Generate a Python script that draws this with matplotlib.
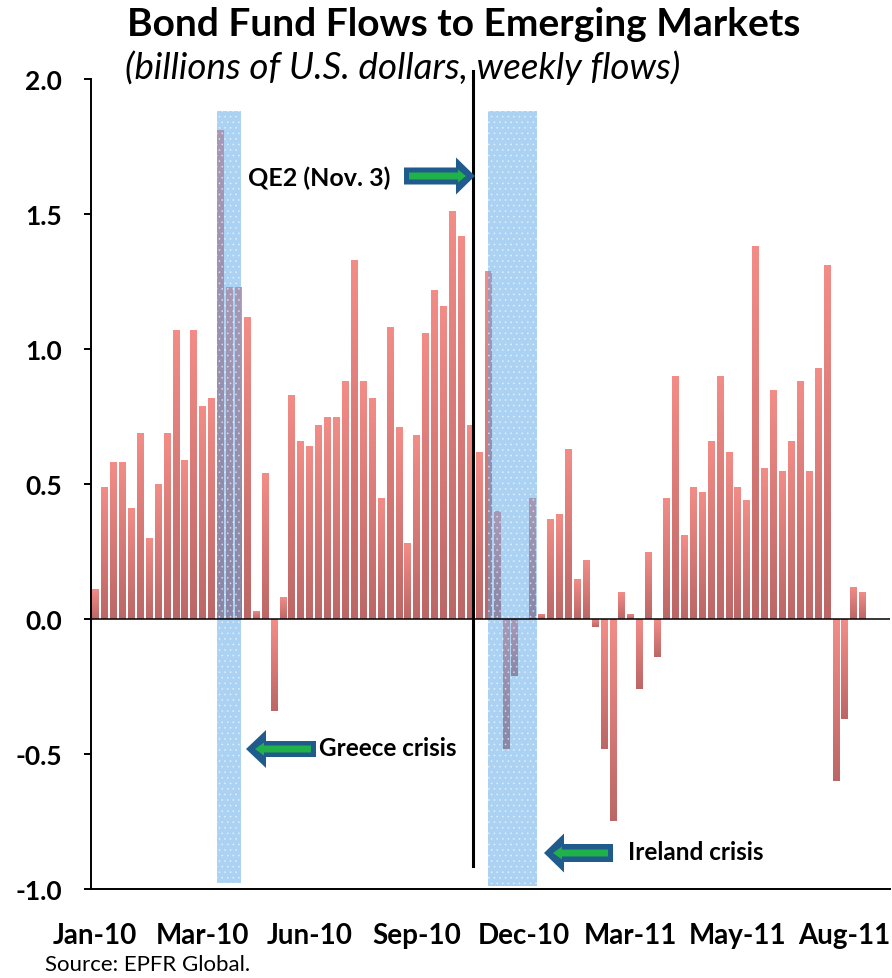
import matplotlib
matplotlib.use("Agg")
import matplotlib.pyplot as plt
import numpy as np
from matplotlib.colors import LinearSegmentedColormap
from matplotlib.patches import Polygon, Rectangle

# weekly bond fund flows to EM, billions USD
flows = [
    0.11, 0.49, 0.58, 0.58, 0.41, 0.69, 0.30, 0.50, 0.69, 1.07,
    0.59, 1.07, 0.79, 0.82, 1.81, 1.23, 1.23, 1.12, 0.03, 0.54,
    -0.34, 0.08, 0.83, 0.66, 0.64, 0.72, 0.75, 0.75, 0.88, 1.33,
    0.88, 0.82, 0.45, 1.08, 0.71, 0.28, 0.68, 1.06, 1.22, 1.16,
    1.51, 1.42, 0.72, 0.62, 1.29, 0.40, -0.48, -0.21, 0.0, 0.45,
    0.02, 0.37, 0.39, 0.63, 0.15, 0.22, -0.03, -0.48, -0.75, 0.10,
    0.02, -0.26, 0.25, -0.14, 0.45, 0.90, 0.31, 0.49, 0.47, 0.66,
    0.90, 0.62, 0.49, 0.44, 1.38, 0.56, 0.85, 0.55, 0.66, 0.88,
    0.55, 0.93, 1.31, -0.60, -0.37, 0.12, 0.10,
]
month_pos = [0, 12, 24, 36, 48, 60, 72, 84]
month_labels = ["Jan-10", "Mar-10", "Jun-10", "Sep-10", "Dec-10", "Mar-11", "May-11", "Aug-11"]
y_ticks = [-1.0, -0.5, 0.0, 0.5, 1.0, 1.5, 2.0]
greece_span = (13.65, 16.35)
ireland_span = (44.05, 49.55)
qe2_week = 42.4

FONT = "Lato"

fig = plt.figure(figsize=(8.92, 9.79), dpi=100)
ax = fig.add_axes([91 / 892, 1 - 890 / 979, 799 / 892, 810 / 979])

x = np.arange(len(flows))
bars = ax.bar(x, flows, width=0.68, color="none", edgecolor="none", zorder=2)

cmap = LinearSegmentedColormap.from_list("bar", ["#BC6767", "#F38C87"])
grad = np.linspace(0, 1, 64).reshape(-1, 1)
for b, v in zip(bars, flows):
    if v == 0:
        continue
    x0 = b.get_x()
    im = ax.imshow(grad, cmap=cmap, origin="lower", aspect="auto",
                   extent=(x0, x0 + b.get_width(), min(0, v), max(0, v)),
                   zorder=2, interpolation="bilinear")
    im.set_clip_path(b)

plt.rcParams["hatch.linewidth"] = 0.5
for (a, b_), bottom in [(greece_span, -0.978), (ireland_span, -0.99)]:
    ax.add_patch(Rectangle((a, bottom), b_ - a, 1.88 - bottom, facecolor="#59A6E6",
                           edgecolor="#FFFFFF", hatch="...", linewidth=0,
                           alpha=0.5, zorder=3))

ax.axhline(0, color="black", lw=1.1, zorder=4)
ax.plot([qe2_week, qe2_week], [-0.914, 2.03], color="black", lw=2.2, zorder=5,
        clip_on=False)

ax.set_xlim(-0.48, 89.1)
ax.set_ylim(-1.0, 2.0)
for s in ["top", "right"]:
    ax.spines[s].set_visible(False)
ax.spines["left"].set_linewidth(1.4)
ax.spines["bottom"].set_linewidth(1.4)

ax.set_yticks(y_ticks)
ax.set_yticklabels([f"{t:.1f}" for t in y_ticks], fontfamily=FONT,
                   fontweight="bold", fontsize=19)
ax.tick_params(axis="y", direction="out", length=5, width=1.4, pad=16)
ax.set_xticks(month_pos)
ax.set_xticklabels(month_labels, fontfamily=FONT, fontweight="bold", fontsize=20)
ax.tick_params(axis="x", length=0, pad=24)

# overlay in pixel coordinates for titles and arrows
ov = fig.add_axes([0, 0, 1, 1], zorder=6)
ov.set_xlim(0, 892)
ov.set_ylim(979, 0)
ov.axis("off")

ov.text(464, 24, "Bond Fund Flows to Emerging Markets", ha="center", va="center",
        fontfamily=FONT, fontweight="bold", fontsize=28)
ov.text(125, 68, "(billions of U.S. dollars, weekly flows)", ha="left", va="center",
        fontfamily=FONT, fontstyle="italic", fontsize=26.5)
ov.text(45, 965, "Source: EPFR Global.", ha="left", va="center",
        fontfamily=FONT, fontsize=16)


def arrow(tail, tip, yc, body_h, head_h, head_len):
    d = 1 if tip > tail else -1
    base = tip - d * head_len
    pts = [(tail, yc - body_h / 2), (base, yc - body_h / 2), (base, yc - head_h / 2),
           (tip, yc), (base, yc + head_h / 2), (base, yc + body_h / 2),
           (tail, yc + body_h / 2)]
    ov.add_patch(Polygon(pts, closed=True, facecolor="#1F5C8B", edgecolor="none"))
    g = 3.5
    gb = base + d * 2
    gpts = [(tail + d * 5, yc - g), (gb, yc - g), (gb, yc - g - 3),
            (tip - d * 9, yc), (gb, yc + g + 3), (gb, yc + g),
            (tail + d * 5, yc + g)]
    ov.add_patch(Polygon(gpts, closed=True, facecolor="#21B14B", edgecolor="none"))


arrow(404, 475, 177, 17, 37, 19)
arrow(316, 246, 750, 16, 38, 20)
arrow(613, 544, 854, 18, 39, 20)

ov.text(248, 178, "QE2 (Nov. 3)", ha="left", va="center", fontfamily=FONT,
        fontweight="bold", fontsize=18)
ov.text(319, 749, "Greece crisis", ha="left", va="center", fontfamily=FONT,
        fontweight="bold", fontsize=17.5)
ov.text(628, 853, "Ireland crisis", ha="left", va="center", fontfamily=FONT,
        fontweight="bold", fontsize=17.5)

fig.savefig("out.png", dpi=100)
